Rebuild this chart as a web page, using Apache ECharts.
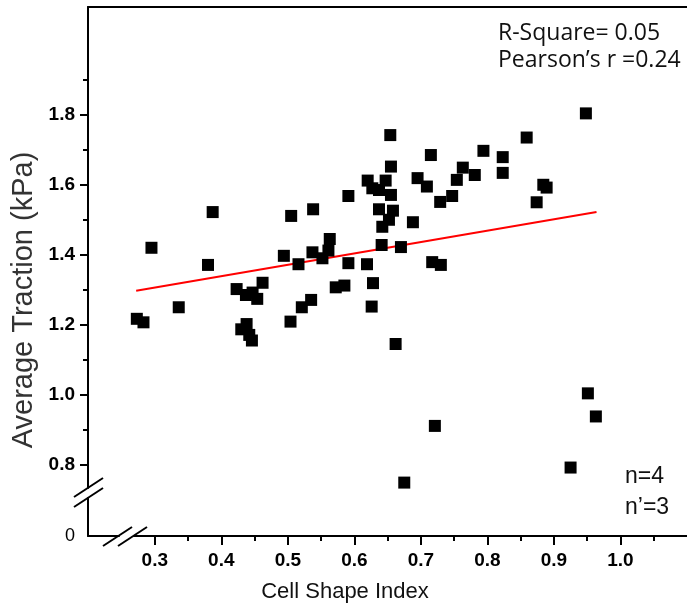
<!DOCTYPE html>
<html>
<head>
<meta charset="utf-8">
<script src="https://cdn.jsdelivr.net/npm/echarts@6/dist/echarts.min.js"></script>
<style>
  html, body { margin: 0; padding: 0; background: #fff; }
  #chart { width: 687px; height: 610px; }
</style>
</head>
<body>
<div id="chart"></div>
<script>
// 散点数据 (Cell Shape Index vs Average Traction)
const shapeIndex = [
  0.654, 0.655, 0.620, 0.627, 0.647, 0.637, 0.655, 0.637, 0.658, 0.652,
  0.642, 0.641, 0.591, 0.387, 0.505, 0.538, 0.295, 0.380, 0.563, 0.494,
  0.516, 0.537, 0.552, 0.561, 0.591, 0.619, 0.670, 0.628, 0.572, 0.585,
  0.423, 0.462, 0.535, 0.273, 0.283, 0.336, 0.437, 0.447, 0.454, 0.438,
  0.430, 0.442, 0.446, 0.504, 0.521, 0.626, 0.662, 0.675, 0.721, 0.951,
  0.963, 0.925, 0.948, 0.859, 0.715, 0.794, 0.823, 0.823, 0.763, 0.781,
  0.754, 0.695, 0.709, 0.747, 0.729, 0.884, 0.889, 0.874, 0.688, 0.717, 0.730
]
const traction = [
  1.741, 1.651, 1.611, 1.589, 1.611, 1.584, 1.570, 1.529, 1.525, 1.499,
  1.479, 1.427, 1.567, 1.521, 1.510, 1.529, 1.419, 1.370, 1.444, 1.396,
  1.372, 1.406, 1.389, 1.411, 1.375, 1.372, 1.421, 1.318, 1.306, 1.311,
  1.301, 1.319, 1.270, 1.216, 1.206, 1.249, 1.284, 1.291, 1.273, 1.201,
  1.186, 1.170, 1.154, 1.208, 1.249, 1.251, 1.144, 0.748, 0.910, 1.003,
  0.937, 0.791, 1.803, 1.734, 1.684, 1.696, 1.678, 1.633, 1.648, 1.627,
  1.613, 1.618, 1.594, 1.567, 1.550, 1.599, 1.591, 1.549, 1.492, 1.378, 1.370
]

// 线性拟合端点
const fitX = [0.272, 0.964]
const fitY = [1.296, 1.521]

// 刻度
const xMajorTicks = [0.3, 0.4, 0.5, 0.6, 0.7, 0.8, 0.9, 1.0]
const xMinorTicks = [0.35, 0.45, 0.55, 0.65, 0.75, 0.85, 0.95, 1.05]
const yLabelValues = [0, 0.8, 1.0, 1.2, 1.4, 1.6, 1.8]
const yMajorTicks = [0.8, 1.0, 1.2, 1.4, 1.6, 1.8]
const yMinorTicks = [0.9, 1.1, 1.3, 1.5, 1.7, 1.9]

// 断轴
const xBreaks = [{start: 0.0457, end: 0.2678, gap: 0.0225}]
const yBreaks = [{start: 0.11, end: 0.734, gap: 0.0286}]

const FONT = '"Liberation Sans", Arial, sans-serif'
const NOTE_FONT = '"Open Sans", sans-serif'

const chart = echarts.init(document.getElementById('chart'))

const baseX = {
  type: 'value',
  min: 0,
  max: 1.1,
  breaks: xBreaks,
  breakArea: {show: false},
  splitLine: {show: false}
}
const baseY = {
  type: 'value',
  min: 0,
  max: 2.107,
  breaks: yBreaks,
  breakArea: {show: false},
  splitLine: {show: false}
}

const option = {
  animation: false,
  backgroundColor: '#fff',
  grid: {left: 88, top: 7, width: 601, height: 529},
  xAxis: [
    {
      ...baseX,
      position: 'bottom',
      axisLine: {lineStyle: {color: '#000', width: 2}},
      axisTick: {customValues: xMajorTicks, length: 9, lineStyle: {color: '#000', width: 2}},
      axisLabel: {
        customValues: xMajorTicks,
        margin: 15,
        color: '#000',
        fontSize: 19,
        fontWeight: 'bold',
        fontFamily: FONT,
        formatter: v => v.toFixed(1)
      }
    },
    {
      ...baseX,
      position: 'bottom',
      axisLine: {show: false},
      axisTick: {customValues: xMinorTicks, length: 5, lineStyle: {color: '#000', width: 2}},
      axisLabel: {show: false}
    },
    {
      type: 'value',
      min: 0,
      max: 1.1,
      position: 'top',
      splitLine: {show: false},
      axisLine: {lineStyle: {color: '#000', width: 2}},
      axisTick: {show: false},
      axisLabel: {show: false}
    }
  ],
  yAxis: [
    {
      ...baseY,
      position: 'left',
      axisLine: {lineStyle: {color: '#000', width: 2}},
      axisTick: {customValues: yMajorTicks, length: 8, lineStyle: {color: '#000', width: 2}},
      axisLabel: {
        customValues: yLabelValues,
        margin: 13,
        color: '#000',
        fontSize: 19,
        fontWeight: 'bold',
        fontFamily: FONT,
        formatter: v => v === 0 ? '{z|0}' : v.toFixed(1),
        rich: {
          z: {fontSize: 18, fontWeight: 'normal', color: '#000', fontFamily: FONT}
        }
      }
    },
    {
      ...baseY,
      position: 'left',
      axisLine: {show: false},
      axisTick: {customValues: yMinorTicks, length: 5, lineStyle: {color: '#000', width: 2}},
      axisLabel: {show: false}
    }
  ],
  series: [
    {
      type: 'line',
      data: fitX.map((x, i) => [x, fitY[i]]),
      symbol: 'none',
      lineStyle: {color: '#ff0000', width: 2},
      z: 2
    },
    {
      type: 'scatter',
      data: shapeIndex.map((x, i) => [x, traction[i]]),
      symbol: 'rect',
      symbolSize: 12,
      itemStyle: {color: '#000', opacity: 1},
      z: 3
    }
  ],
  graphic: [
    // 断轴斜线
    {type: 'line', shape: {x1: 74, y1: 497, x2: 103, y2: 478}, style: {stroke: '#000', lineWidth: 2}, z: 101},
    {type: 'line', shape: {x1: 74, y1: 507, x2: 103, y2: 488}, style: {stroke: '#000', lineWidth: 2}, z: 101},
    {type: 'line', shape: {x1: 103, y1: 546, x2: 132, y2: 527}, style: {stroke: '#000', lineWidth: 2}, z: 101},
    {type: 'line', shape: {x1: 118, y1: 546, x2: 147, y2: 527}, style: {stroke: '#000', lineWidth: 2}, z: 101},
    // 坐标轴标题
    {
      type: 'text', x: 24, y: 300, rotation: Math.PI / 2,
      style: {text: 'Average Traction (kPa)', fontSize: 29, fontFamily: FONT, fill: '#333',
        textAlign: 'center', textVerticalAlign: 'middle'}
    },
    {
      type: 'text', x: 345, y: 592,
      style: {text: 'Cell Shape Index', fontSize: 22, fontFamily: FONT, fill: '#111',
        textAlign: 'center', textVerticalAlign: 'middle'}
    },
    // 统计信息
    {
      type: 'text', x: 498, y: 33,
      style: {text: 'R-Square= 0.05', fontSize: 23, fontFamily: NOTE_FONT, fill: '#111',
        textAlign: 'left', textVerticalAlign: 'middle'}
    },
    {
      type: 'text', x: 498, y: 60,
      style: {text: 'Pearson\u2019s r =0.24', fontSize: 23, fontFamily: NOTE_FONT, fill: '#111',
        textAlign: 'left', textVerticalAlign: 'middle'}
    },
    {
      type: 'text', x: 625, y: 477,
      style: {text: 'n=4', fontSize: 23, fontFamily: FONT, fill: '#111',
        textAlign: 'left', textVerticalAlign: 'middle'}
    },
    {
      type: 'text', x: 625, y: 508,
      style: {text: 'n\u2019=3', fontSize: 23, fontFamily: FONT, fill: '#111',
        textAlign: 'left', textVerticalAlign: 'middle'}
    }
  ]
}

chart.setOption(option)

window.addEventListener('resize', () => {
  chart.resize()
})
</script>
</body>
</html>
